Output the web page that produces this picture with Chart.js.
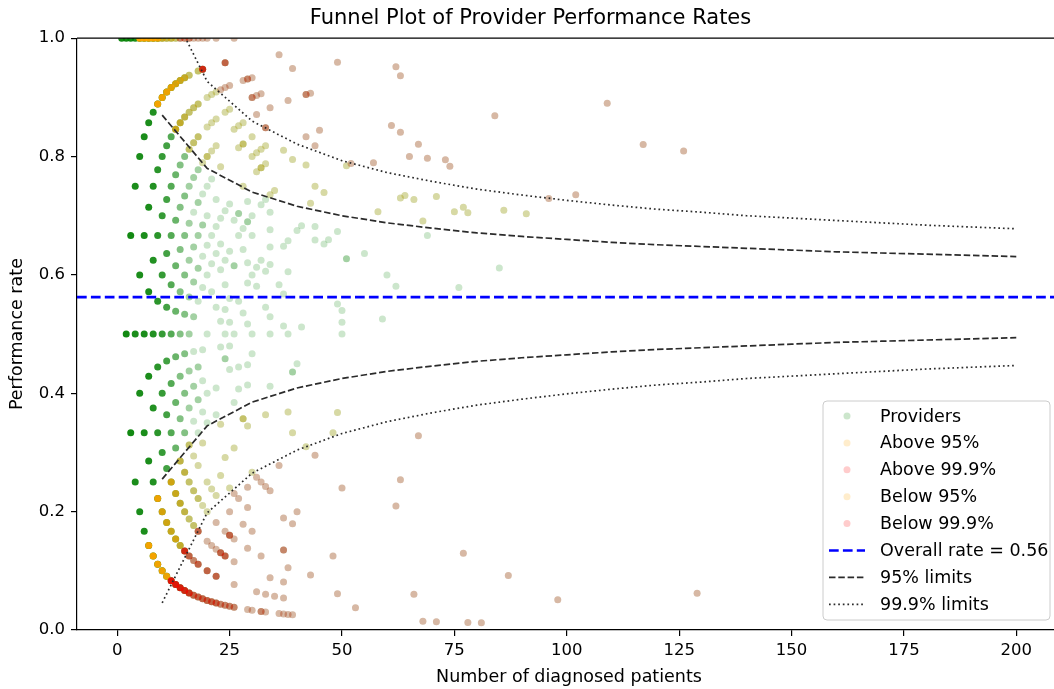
<!DOCTYPE html>
<html>
<head>
<meta charset="utf-8">
<script src="https://cdn.jsdelivr.net/npm/chart.js@4.4.0/dist/chart.umd.min.js"></script>
<style>
  html, body { margin: 0; padding: 0; overflow: hidden; background: #fff; }
</style>
</head>
<body>
<canvas id="myChart" width="1070" height="689"></canvas>
<script>
// providers as [patients, events, number of providers at that point]
const inControl = [
  [1,1,12],
  [2,1,12],[2,2,12],
  [3,1,12],[3,2,12],[3,3,12],
  [4,1,10],[4,2,10],[4,3,10],[4,4,10],
  [5,1,10],[5,2,10],[5,3,10],[5,4,10],
  [6,1,10],[6,2,10],[6,3,10],[6,4,10],[6,5,10],
  [7,2,10],[7,3,10],[7,4,10],[7,5,10],[7,6,10],
  [8,2,9],[8,3,9],[8,4,9],[8,5,9],[8,6,9],[8,7,9],
  [9,3,8],[9,4,8],[9,5,8],[9,6,8],[9,7,8],
  [10,3,7],[10,4,7],[10,5,7],[10,6,7],[10,7,7],[10,8,7],
  [11,3,6],[11,4,6],[11,5,6],[11,6,6],[11,7,6],[11,8,6],[11,9,6],
  [12,4,5],[12,5,5],[12,6,5],[12,7,5],[12,8,5],[12,9,5],[12,10,5],
  [13,4,4],[13,5,4],[13,6,4],[13,7,4],[13,8,4],[13,9,4],[13,10,4],
  [14,5,3],[14,6,3],[14,7,3],[14,8,3],[14,9,3],[14,10,3],[14,11,3],
  [15,5,3],[15,6,3],[15,7,3],[15,8,3],[15,9,3],[15,10,3],[15,11,3],[15,12,3],
  [16,6,2],[16,7,2],[16,8,2],[16,9,2],[16,10,2],[16,11,2],[16,12,2],
  [17,6,1],[17,7,2],[17,8,1],[17,9,2],[17,10,2],[17,11,2],[17,12,1],[17,13,2],
  [18,6,1],[18,7,2],[18,8,2],[18,10,1],[18,11,2],[18,12,2],[18,13,2],[18,14,2],
  [19,7,1],[19,8,1],[19,9,1],[19,11,1],[19,12,1],[19,13,2],[19,14,1],
  [20,7,1],[20,8,1],[20,10,1],[20,12,1],[20,13,1],[20,14,1],[20,15,1],
  [21,12,1],[21,13,1],[21,14,1],[21,16,1],
  [22,8,1],[22,9,1],[22,12,1],[22,14,1],[22,15,1],[22,16,1],
  [23,11,1],[23,12,1],[23,14,1],[23,15,1],[23,16,1],
  [24,11,2],[24,12,1],[24,13,1],[24,14,1],[24,15,1],[24,17,1],
  [25,11,1],[25,12,1],[25,13,1],[25,14,1],[25,16,1],[25,18,1],
  [26,10,1],[26,13,1],[26,16,2],[26,18,1],
  [27,11,1],[27,12,1],[27,15,1],[27,18,1],[27,19,2],
  [28,15,1],[28,18,1],[28,19,1],
  [29,12,1],[29,13,1],[29,15,1],[29,17,1],[29,18,1],[29,20,2],[29,21,1],
  [30,14,1],[30,15,1],[30,18,1],[30,20,1],[30,21,1],
  [31,18,1],[31,19,1],
  [32,20,1],[32,23,1],
  [33,18,1],[33,20,1],[33,24,1],
  [34,14,1],[34,17,1],[34,18,1],[34,21,1],[34,22,1],[34,23,1],[34,24,1],
  [36,21,1],[37,19,1],[37,21,1],[37,24,1],[38,19,1],[38,23,1],[38,25,1],[39,17,2],
  [40,18,1],[40,27,1],[41,21,1],[41,28,1],[44,29,1],[44,30,1],[46,30,1],[47,31,1],
  [49,27,1],[49,33,1],[50,25,1],[50,26,1],[50,27,1],[51,32,2],[55,35,1],[59,31,1],
  [60,36,1],[62,36,1],[69,46,1],[76,44,1],[85,52,1]
];

const above95 = [
  [5,5,14],[6,6,14],[7,7,14],[8,8,14],[9,8,14],[9,9,12],[10,9,13],[10,10,4],[11,10,11],[11,11,3],
  [12,11,9],[12,12,3],[13,11,5],[13,12,7],[13,13,2],[14,12,4],[14,13,5],[15,13,3],[15,14,4],
  [16,13,2],[16,14,2],[16,15,2],[17,14,2],[17,15,2],[18,15,2],[18,16,2],[18,17,2],[19,15,1],
  [20,16,2],[20,17,1],[20,18,1],[21,17,1],[21,18,1],[21,19,1],[22,18,1],[22,19,1],[22,20,1],
  [23,18,1],[24,21,1],[25,22,1],[26,22,1],[27,22,1],[27,23,1],[28,21,1],[28,23,2],[28,24,1],
  [30,24,1],[30,25,1],[31,24,1],[31,25,1],[32,25,2],[32,26,1],[33,26,1],[33,27,1],[34,25,1],
  [35,26,1],[37,30,1],[39,31,1],[42,33,1],[43,31,1],[44,33,1],[46,34,1],[51,40,1],[58,41,1],
  [63,46,1],[64,47,1],[66,48,1],[68,47,1],[71,52,1],[75,53,1],[77,55,1],[78,55,1],[86,61,1],[91,64,1]
];

const above999 = [
  [14,14,2],[15,15,2],[16,16,2],[17,17,1],[18,18,1],[19,18,6],[19,19,1],[20,20,1],[22,22,1],[23,21,1],
  [24,22,1],[24,23,3],[25,23,1],[26,26,1],[28,26,1],[29,27,2],[30,27,2],[30,28,1],[31,27,1],[31,28,1],
  [32,29,1],[33,28,2],[34,30,1],[36,35,1],[38,34,1],[39,37,1],[42,35,1],[42,38,2],[43,39,1],[44,36,1],
  [45,38,1],[49,47,1],[52,41,1],[57,45,1],[61,52,1],[62,59,1],[63,53,1],[63,59,1],[65,52,1],[67,55,1],
  [69,55,1],[73,58,1],[74,58,1],[84,73,1],[96,70,1],[102,75,1],[109,97,1],[117,96,1],[126,102,1]
];

const below95 = [
  [7,1,14],[8,1,14],[9,1,13],[9,2,12],[10,1,12],[10,2,7],[11,1,11],[11,2,6],[12,2,5],[12,3,6],
  [13,2,6],[13,3,5],[14,2,4],[14,3,4],[14,4,3],[15,3,3],[15,4,3],[16,3,2],[16,4,2],[16,5,2],
  [17,3,2],[17,4,2],[17,5,1],[18,4,2],[18,5,1],[19,4,1],[19,6,1],[20,4,1],[20,5,1],[21,5,1],[22,5,1],
  [23,6,1],[23,8,1],[24,7,1],[25,6,1],[26,8,1],[28,10,2],[29,10,1],[30,8,1],[33,12,1],[38,14,1],
  [39,13,1],[42,13,1],[48,16,1],[49,18,1]
];

const below999 = [
  [12,1,9],[13,1,8],[14,1,7],[15,1,6],[15,2,6],[16,1,5],[16,2,3],[17,1,3],[17,2,2],[18,1,3],[18,2,3],[18,3,3],
  [19,1,3],[20,1,3],[20,2,3],[20,3,1],[21,1,3],[21,3,1],[22,1,3],[22,2,3],[22,3,1],[22,4,1],[23,1,2],[23,3,3],
  [24,1,2],[24,3,3],[24,4,1],[25,1,2],[25,4,3],[25,5,1],[26,1,2],[26,2,1],[26,3,1],[26,4,1],[26,6,1],[27,6,1],
  [28,5,1],[29,1,1],[29,4,1],[29,6,1],[29,7,1],[30,1,1],[30,5,1],[31,2,1],[31,8,1],[32,1,2],[32,4,1],[32,8,1],
  [33,1,1],[33,2,1],[33,8,1],[34,3,1],[34,8,1],[35,2,1],[36,1,1],[36,10,1],[37,1,1],[37,2,1],[37,3,1],[37,5,2],
  [37,7,1],[38,1,1],[38,4,1],[39,1,1],[39,7,1],[40,8,1],[43,4,1],[44,13,1],[48,6,1],[49,3,1],[50,12,1],[53,2,1],
  [62,13,1],[63,16,1],[66,4,1],[67,22,1],[68,1,1],[71,1,1],[77,10,1],[78,1,1],[81,1,1],[87,8,1],[98,5,1],[129,8,1]
];

// control limits, read at every 10 patients
const limitN   = [10,20,30,40,50,60,70,80,90,100,110,120,130,140,150,160,170,180,190,200];
const upper95  = [0.870,0.780,0.740,0.716,0.700,0.688,0.679,0.671,0.665,0.660,0.655,0.651,0.648,0.645,0.642,0.639,0.637,0.635,0.633,0.631];
const lower95  = [0.255,0.345,0.385,0.409,0.425,0.437,0.446,0.454,0.460,0.465,0.470,0.474,0.477,0.480,0.483,0.486,0.488,0.490,0.492,0.494];
const upper999 = [1.079,0.927,0.860,0.821,0.793,0.773,0.758,0.745,0.735,0.726,0.718,0.711,0.706,0.700,0.696,0.692,0.688,0.684,0.681,0.678];
const lower999 = [0.046,0.198,0.265,0.304,0.332,0.352,0.367,0.380,0.390,0.399,0.407,0.414,0.419,0.425,0.429,0.433,0.437,0.441,0.444,0.447];

const overallRate = 0.5625;
const xTicks = [0,25,50,75,100,125,150,175,200];
const yTicks = [0,0.2,0.4,0.6,0.8,1.0];
const xMin = -8.95, xMax = 209.95;

const font = '"DejaVu Sans", sans-serif';

function toPoints(list) {
  return list.map(p => ({x: p[0], y: p[1] / p[0], c: p[2]}));
}
// each provider is a marker of alpha 0.2, so coincident providers stack up
function stacked(rgb) {
  return ctx => {
    const c = ctx.raw ? ctx.raw.c : 1;
    return 'rgba(' + rgb + ',' + (1 - Math.pow(0.8, c)).toFixed(3) + ')';
  };
}
function limitLine(values) {
  return limitN.map((n, i) => ({x: n, y: values[i]}));
}

const allProviders = [].concat(inControl, above95, above999, below95, below999);

function scatterSet(label, list, rgb, order) {
  return {
    label: label,
    data: toPoints(list),
    pointBackgroundColor: stacked(rgb),
    pointBorderWidth: 0,
    pointRadius: 3.5,
    pointHoverRadius: 3.5,
    showLine: false,
    clip: 0,
    order: order
  };
}
function lineSet(label, data, color, width, dash) {
  return {
    label: label,
    data: data,
    showLine: true,
    borderColor: color,
    borderWidth: width,
    borderDash: dash,
    pointRadius: 0,
    fill: false,
    clip: 0,
    order: 1
  };
}

const legendItems = [
  {text: 'Providers', dot: 'rgba(0,128,0,0.2)'},
  {text: 'Above 95%', dot: 'rgba(255,165,0,0.2)'},
  {text: 'Above 99.9%', dot: 'rgba(255,0,0,0.2)'},
  {text: 'Below 95%', dot: 'rgba(255,165,0,0.2)'},
  {text: 'Below 99.9%', dot: 'rgba(255,0,0,0.2)'},
  {text: 'Overall rate = 0.56', line: '#0000ff', width: 2.6, dash: [9.7, 4.2]},
  {text: '95% limits', line: '#2b2b2b', width: 1.7, dash: [6.5, 2.8]},
  {text: '99.9% limits', line: '#2b2b2b', width: 1.7, dash: [1.7, 2.9]}
];

const frame = {
  id: 'frame',
  afterDraw(chart) {
    const {ctx, chartArea: a} = chart;
    ctx.save();
    ctx.strokeStyle = '#000';
    ctx.lineWidth = 1.2;
    ctx.beginPath();
    ctx.moveTo(a.left, a.top);
    ctx.lineTo(a.right, a.top);
    ctx.lineTo(a.right, a.bottom);
    ctx.stroke();
    ctx.restore();
  }
};

const funnelLegend = {
  id: 'funnelLegend',
  afterDraw(chart) {
    const {ctx, chartArea: a} = chart;
    const w = 227, h = 219, r = 4;
    const x0 = a.right - 11 - w, y0 = a.bottom - 10 - h;
    ctx.save();
    ctx.beginPath();
    ctx.moveTo(x0 + r, y0);
    ctx.arcTo(x0 + w, y0, x0 + w, y0 + h, r);
    ctx.arcTo(x0 + w, y0 + h, x0, y0 + h, r);
    ctx.arcTo(x0, y0 + h, x0, y0, r);
    ctx.arcTo(x0, y0, x0 + w, y0, r);
    ctx.closePath();
    ctx.fillStyle = 'rgba(255,255,255,0.8)';
    ctx.fill();
    ctx.strokeStyle = '#cccccc';
    ctx.lineWidth = 1;
    ctx.stroke();
    ctx.font = '17.5px ' + font;
    ctx.textBaseline = 'middle';
    legendItems.forEach((item, i) => {
      const y = y0 + 15 + i * 26.9;
      if (item.dot) {
        ctx.beginPath();
        ctx.arc(x0 + 24, y, 3.5, 0, Math.PI * 2);
        ctx.fillStyle = item.dot;
        ctx.fill();
      } else {
        ctx.beginPath();
        ctx.setLineDash(item.dash);
        ctx.strokeStyle = item.line;
        ctx.lineWidth = item.width;
        ctx.moveTo(x0 + 6, y);
        ctx.lineTo(x0 + 42, y);
        ctx.stroke();
        ctx.setLineDash([]);
      }
      ctx.fillStyle = '#000';
      ctx.fillText(item.text, x0 + 57, y + 1);
    });
    ctx.restore();
  }
};

const myChart = new Chart(document.getElementById('myChart'), {
  type: 'scatter',
  data: {
    datasets: [
      lineSet('Overall rate', [{x: xMin, y: overallRate}, {x: xMax, y: overallRate}], '#0000ff', 2.6, [9.7, 4.2]),
      lineSet('95% upper', limitLine(upper95), '#2b2b2b', 1.7, [6.5, 2.8]),
      lineSet('95% lower', limitLine(lower95), '#2b2b2b', 1.7, [6.5, 2.8]),
      lineSet('99.9% upper', limitLine(upper999), '#2b2b2b', 1.7, [1.7, 2.9]),
      lineSet('99.9% lower', limitLine(lower999), '#2b2b2b', 1.7, [1.7, 2.9]),
      scatterSet('Below 99.9%', below999, '255,0,0', 6),
      scatterSet('Below 95%', below95, '255,165,0', 7),
      scatterSet('Above 99.9%', above999, '255,0,0', 8),
      scatterSet('Above 95%', above95, '255,165,0', 9),
      scatterSet('Providers', allProviders, '0,128,0', 10)
    ]
  },
  options: {
    responsive: false,
    animation: false,
    events: [],
    layout: { padding: { top: 0, left: 0, right: 9, bottom: 0 } },
    plugins: {
      legend: { display: false },
      tooltip: { enabled: false },
      title: {
        display: true,
        text: 'Funnel Plot of Provider Performance Rates',
        color: '#000',
        font: { family: font, size: 21, weight: 'normal', lineHeight: 1.2 },
        padding: { top: 6, bottom: 7 }
      }
    },
    scales: {
      x: {
        type: 'linear',
        min: xMin,
        max: xMax,
        afterBuildTicks: s => { s.ticks = xTicks.map(v => ({value: v})); },
        afterFit: s => { s.height = 59; },
        ticks: { color: '#000', padding: 5, font: { family: font, size: 16.5 }, callback: v => String(v) },
        grid: { display: true, drawOnChartArea: false, drawTicks: true, tickLength: 6, color: '#000', lineWidth: 1.2 },
        border: { display: true, color: '#000', width: 1.2 },
        title: { display: true, text: 'Number of diagnosed patients', color: '#000',
                 font: { family: font, size: 17.5, lineHeight: 1.2 }, padding: { top: 0, bottom: 1.5 } }
      },
      y: {
        type: 'linear',
        min: 0,
        max: 1,
        afterBuildTicks: s => { s.ticks = yTicks.map(v => ({value: v})); },
        afterFit: s => { s.width = 77; },
        ticks: { color: '#000', padding: 6, font: { family: font, size: 16.5 }, callback: v => v.toFixed(1) },
        grid: { display: true, drawOnChartArea: false, drawTicks: true, tickLength: 6, color: '#000', lineWidth: 1.2 },
        border: { display: true, color: '#000', width: 1.2 },
        title: { display: true, text: 'Performance rate', color: '#000',
                 font: { family: font, size: 17.5, lineHeight: 1.2 }, padding: { top: 6.5, bottom: 0 } }
      }
    }
  },
  plugins: [frame, funnelLegend]
});
</script>
</body>
</html>
